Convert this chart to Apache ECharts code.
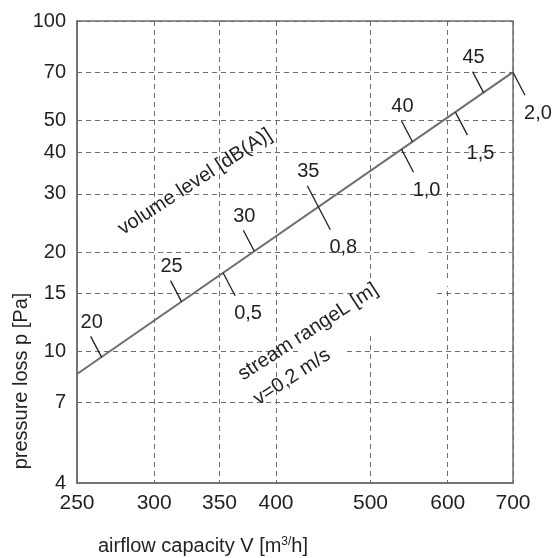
<!DOCTYPE html>
<html><head><meta charset="utf-8">
<script src="https://cdn.jsdelivr.net/npm/echarts@6/dist/echarts.min.js"></script>
<style>html,body{margin:0;padding:0;background:#fff}#c{width:552px;height:558px}</style>
</head><body><div id="c"></div>
<script>
// ---- data ----
const xTicks = [250, 300, 350, 400, 500, 600, 700];
const yTicks = [4, 7, 10, 15, 20, 30, 40, 50, 70, 100];
const lineAirflow = [250, 700];
const linePressure = [8.55, 70];
const dbLevels = [20, 25, 30, 35, 40, 45];
const dbAirflow = [265, 320, 380, 442, 552, 653];
const dbPressure = [9.6, 14.15, 20.1, 27.4, 43.1, 60.7];
const streamRange = ['0,5', '0,8', '1,0', '1,5', '2,0'];
const streamAirflow = [353, 442, 538, 611, 700];
const streamPressure = [17.3, 27.4, 40.9, 53.0, 70];

const FONT = '"Liberation Sans", Arial, Helvetica, sans-serif';
const TXT = '#231f20';
const GRAY = '#6d6e71';
const DEG = Math.PI / 180;

function markRenderer(labels, tick, lab) {
  return function (params, api) {
    const p = api.coord([api.value(0), api.value(1)]);
    return {
      type: 'group',
      children: [
        { type: 'line', shape: { x1: p[0], y1: p[1], x2: p[0] + tick[0], y2: p[1] + tick[1] },
          style: { stroke: TXT, lineWidth: 1.3 } },
        { type: 'text', x: p[0] + lab[0], y: p[1] + lab[1],
          style: { text: String(labels[params.dataIndex]), font: '20px ' + FONT, fill: TXT,
                   align: 'center', verticalAlign: 'middle' } }
      ]
    };
  };
}

const chart = echarts.init(document.getElementById('c'), null, { renderer: 'canvas' });
chart.setOption({
  animation: false,
  backgroundColor: '#fff',
  grid: { left: 77, top: 21, right: 39, bottom: 75, show: true, borderColor: GRAY, borderWidth: 1.5,
          outerBoundsMode: 'none', containLabel: false },
  xAxis: {
    type: 'log', logBase: 10, min: 250, max: 700,
    axisLine: { show: true, lineStyle: { color: GRAY, width: 1.5 } },
    axisTick: { show: false, customValues: xTicks },
    axisLabel: { customValues: xTicks, fontSize: 21, color: TXT, margin: 10, fontFamily: FONT,
                 formatter: v => String(Math.round(v)) },
    splitLine: { show: true, lineStyle: { type: [5, 4], color: GRAY, width: 1 } }
  },
  yAxis: {
    type: 'log', logBase: 10, min: 4, max: 100,
    axisLine: { show: true, lineStyle: { color: GRAY, width: 1.5 } },
    axisTick: { show: false, customValues: yTicks },
    axisLabel: { customValues: yTicks, fontSize: 20, color: TXT, margin: 11, fontFamily: FONT,
                 formatter: v => String(Math.round(v)) },
    splitLine: { show: true, lineStyle: { type: [5, 4], color: GRAY, width: 1 } }
  },
  graphic: [
    { type: 'rect', x: 370, y: 309, rotation: 33 * DEG, z: 1,
      shape: { x: -80, y: -23, width: 160, height: 46 }, style: { fill: '#fff' } },
    { type: 'text', x: 21, y: 381, rotation: 90 * DEG, z: 10,
      style: { text: 'pressure loss p [Pa]', font: '20px ' + FONT, fill: TXT, align: 'center', verticalAlign: 'middle' } },
    { type: 'text', x: 203, y: 546, z: 10,
      style: { text: 'airflow capacity V [m{s|3/}h]', font: '20px ' + FONT, fill: TXT, align: 'center', verticalAlign: 'middle',
               rich: { s: { fontSize: 12, fontFamily: FONT, fill: TXT, verticalAlign: 'top' } } } },
    { type: 'text', x: 195, y: 182, rotation: 33 * DEG, z: 10,
      style: { text: 'volume level [dB(A)]', font: '20px ' + FONT, fill: TXT, align: 'center', verticalAlign: 'middle' } },
    { type: 'text', x: 308, y: 332, rotation: 33 * DEG, z: 10,
      style: { text: 'stream rangeL [m]', font: '20px ' + FONT, fill: TXT, align: 'center', verticalAlign: 'middle' } },
    { type: 'text', x: 292, y: 377, rotation: 33 * DEG, z: 10,
      style: { text: 'v=0,2 m/s', font: '20px ' + FONT, fill: TXT, align: 'center', verticalAlign: 'middle' } }
  ],
  series: [
    { type: 'line', data: lineAirflow.map((v, i) => [v, linePressure[i]]), symbol: 'none',
      lineStyle: { color: GRAY, width: 2 }, z: 3 },
    { type: 'custom', data: dbAirflow.map((v, i) => [v, dbPressure[i]]), z: 4,
      renderItem: markRenderer(dbLevels, [-11, -21], [-10, -35]) },
    { type: 'custom', data: streamAirflow.map((v, i) => [v, streamPressure[i]]), z: 4,
      renderItem: markRenderer(streamRange, [12, 23], [25, 41]) }
  ]
});
</script></body></html>
